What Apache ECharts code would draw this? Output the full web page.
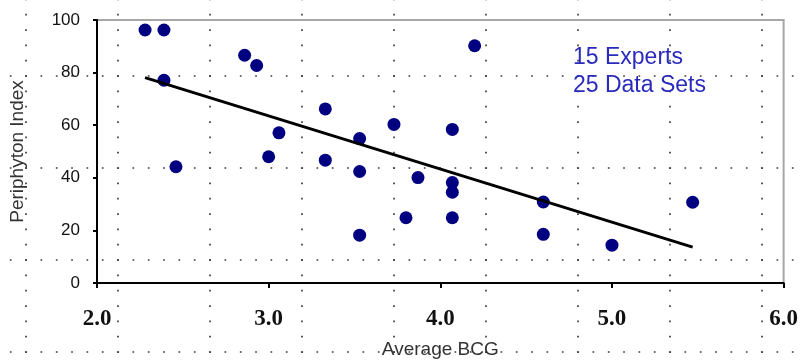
<!DOCTYPE html>
<html>
<head>
<meta charset="utf-8">
<script src="https://cdn.jsdelivr.net/npm/echarts@6/dist/echarts.min.js"></script>
<style>
  html, body { margin: 0; padding: 0; background: #fff; }
  #chart { width: 801px; height: 364px; }
</style>
</head>
<body>
<div id="chart"></div>
<script>
// Average BCG score (x) and Periphyton Index (y) for each data set
const bcgScores = [2.28, 2.39, 2.86, 2.93, 2.39, 3.06, 2.46, 3.00, 3.33, 3.33, 3.73, 3.53, 4.07,
                   3.53, 3.87, 4.07, 4.07, 3.80, 4.07, 3.53, 4.20, 4.60, 4.60, 5.00, 5.47];
const periphytonIndex = [96.2, 96.2, 86.6, 82.7, 77.1, 57.1, 44.2, 48.0, 66.2, 46.7, 60.3, 54.9, 58.4,
                         42.4, 40.1, 38.2, 34.5, 24.8, 24.8, 18.2, 90.2, 30.8, 18.5, 14.4, 30.7];
const xTicks = [2, 3, 4, 5, 6];
const yTicks = [0, 20, 40, 60, 80, 100];
const noteLines = ['15 Experts', '25 Data Sets'];

// Least-squares trend line over the observed BCG range
const n = bcgScores.length;
const mx = bcgScores.reduce((a, b) => a + b, 0) / n;
const my = periphytonIndex.reduce((a, b) => a + b, 0) / n;
let sxy = 0, sxx = 0;
for (let i = 0; i < n; i++) {
  sxy += (bcgScores[i] - mx) * (periphytonIndex[i] - my);
  sxx += (bcgScores[i] - mx) * (bcgScores[i] - mx);
}
const slope = sxy / sxx;
const intercept = my - slope * mx;
const xLo = Math.min(...bcgScores), xHi = Math.max(...bcgScores);
const trend = [[xLo, intercept + slope * xLo], [xHi, intercept + slope * xHi]];

const points = bcgScores.map((x, i) => [x, periphytonIndex[i]]);

// Dotted page guides behind the chart
const guides = [];
const step = 92 / 6;
const dotStyle = { stroke: '#3c3c3c', lineWidth: 1.7, lineDash: [1.7, step - 1.7] };
[26, 118, 210, 302, 394, 486, 578, 670, 762].forEach(x => {
  guides.push({ type: 'line', silent: true, z: 0,
    shape: { x1: x, y1: 14.7 - 0.85 - step, x2: x, y2: 380 }, style: dotStyle });
});
[76, 168, 260, 352].forEach(y => {
  guides.push({ type: 'line', silent: true, z: 0,
    shape: { x1: 10.7 - 0.85, y1: y, x2: 820, y2: y }, style: dotStyle });
});

const chart = echarts.init(document.getElementById('chart'), null, { renderer: 'canvas' });
chart.setOption({
  animation: false,
  backgroundColor: '#fff',
  grid: {
    left: 88, right: 15, top: 20, bottom: 78,
    show: true, borderColor: '#a6a6a6', borderWidth: 2, backgroundColor: 'transparent'
  },
  xAxis: {
    type: 'value', min: xTicks[0], max: xTicks[xTicks.length - 1], interval: 1,
    name: 'Average BCG', nameLocation: 'middle', nameGap: 57,
    nameTextStyle: { fontFamily: 'Liberation Sans', fontSize: 19, color: '#333' },
    axisLine: { show: true, onZero: false, lineStyle: { color: '#000', width: 2 } },
    axisTick: { show: true, length: 5, lineStyle: { color: '#000', width: 2 } },
    axisLabel: {
      margin: 25, fontFamily: 'Liberation Serif', fontWeight: 'bold', fontSize: 23, color: '#111',
      formatter: v => v.toFixed(1)
    },
    splitLine: { show: false }
  },
  yAxis: {
    type: 'value', min: yTicks[0], max: yTicks[yTicks.length - 1], interval: 20,
    name: 'Periphyton Index', nameLocation: 'middle', nameGap: 70, nameRotate: 90,
    nameTextStyle: { fontFamily: 'Liberation Sans', fontSize: 19, color: '#333' },
    axisLine: { show: true, onZero: false, lineStyle: { color: '#000', width: 2 } },
    axisTick: { show: true, length: 4, lineStyle: { color: '#000', width: 2 } },
    axisLabel: { margin: 17, fontFamily: 'Liberation Sans', fontSize: 17, color: '#111' },
    splitLine: { show: false }
  },
  graphic: guides.concat([{
    type: 'text', left: 573, top: 44, z: 10, silent: true,
    style: {
      text: noteLines.join('\n'), fill: '#2a2abd',
      font: '23px "Liberation Sans"', lineHeight: 28
    }
  }]),
  series: [
    {
      type: 'scatter', data: points, symbol: 'circle', symbolSize: 13, z: 3,
      itemStyle: { color: '#000080', opacity: 1 }
    },
    {
      type: 'line', data: trend, symbol: 'none', z: 4,
      lineStyle: { color: '#000', width: 3 }
    }
  ]
});
</script>
</body>
</html>
